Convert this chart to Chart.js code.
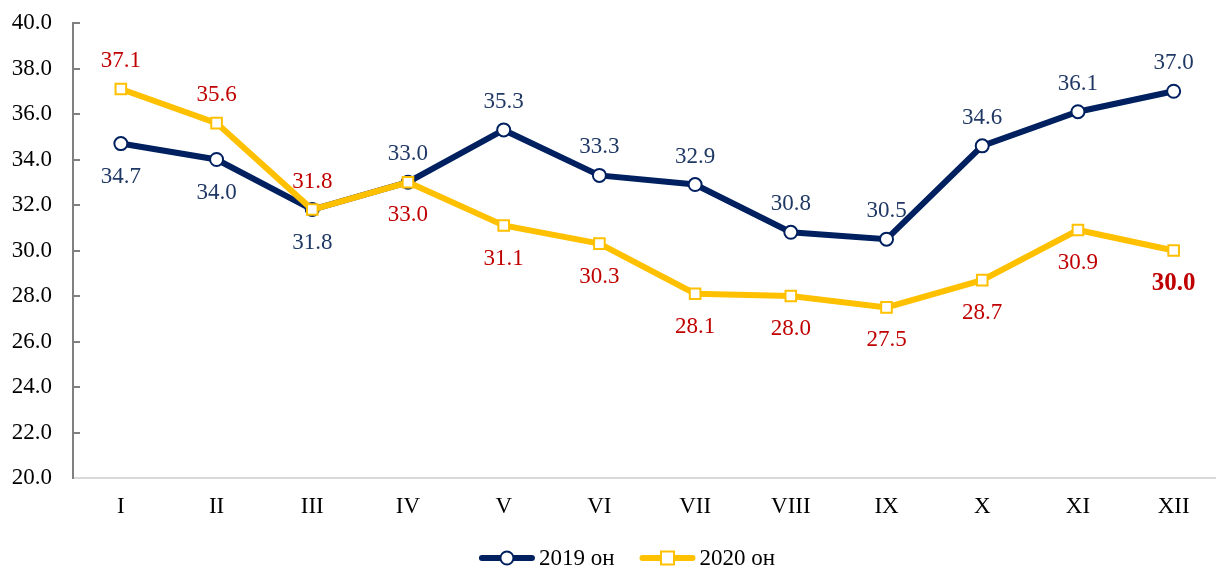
<!DOCTYPE html>
<html>
<head>
<meta charset="utf-8">
<script src="https://cdn.jsdelivr.net/npm/chart.js@4/dist/chart.umd.min.js"></script>
<style>
  html, body { margin: 0; padding: 0; background: #fff; overflow: hidden; }
  #wrap { width: 1216px; height: 572px; overflow: hidden; position: relative; }
  #c { position: absolute; left: 0; top: 0; }
</style>
</head>
<body>
<div id="wrap"><canvas id="c" width="1231" height="572"></canvas></div>
<script>
var months = ["I", "II", "III", "IV", "V", "VI", "VII", "VIII", "IX", "X", "XI", "XII"];
var values2019 = [34.7, 34.0, 31.8, 33.0, 35.3, 33.3, 32.9, 30.8, 30.5, 34.6, 36.1, 37.0];
var values2020 = [37.1, 35.6, 31.8, 33.0, 31.1, 30.3, 28.1, 28.0, 27.5, 28.7, 30.9, 30.0];
var yTicks = [20, 22, 24, 26, 28, 30, 32, 34, 36, 38, 40];

// where the value labels go (1 = above, -1 = below)
var side2019 = [-1, -1, -1, 1, 1, 1, 1, 1, 1, 1, 1, 1];
var side2020 = [1, 1, 1, -1, -1, -1, -1, -1, -1, -1, -1, -1];

var NAVY = "#002060";
var GOLD = "#FFC000";
var SERIF = "'Liberation Serif', 'Times New Roman', serif";

function drawIcon(g, x, y, color, shape) {
  g.save();
  g.strokeStyle = color; g.lineWidth = 6; g.lineCap = "round";
  g.beginPath(); g.moveTo(x + 3, y); g.lineTo(x + 53, y); g.stroke();
  g.fillStyle = "#fff"; g.lineWidth = 2;
  if (shape === "circle") {
    g.beginPath(); g.arc(x + 28, y, 6.5, 0, Math.PI * 2); g.fill(); g.stroke();
  } else {
    g.fillRect(x + 21.5, y - 6.5, 13, 13); g.strokeRect(x + 21.5, y - 6.5, 13, 13);
  }
  g.restore();
}

// small tick marks on the inside of the y axis
var innerTicks = {
  id: "innerTicks",
  beforeDatasetsDraw: function (chart) {
    var ctx = chart.ctx, ys = chart.scales.y;
    ctx.save();
    ctx.strokeStyle = "#808080";
    ctx.lineWidth = 2;
    ys.ticks.forEach(function (t) {
      if (t.value === 20) return;
      var py = Math.round(ys.getPixelForValue(t.value));
      ctx.beginPath();
      ctx.moveTo(ys.right, py);
      ctx.lineTo(ys.right + 7, py);
      ctx.stroke();
    });
    ctx.restore();
  }
};

var valueLabels = {
  id: "valueLabels",
  afterDatasetsDraw: function (chart) {
    var ctx = chart.ctx;
    var cfg = [
      { data: values2019, side: side2019, color: "#1F3864" },
      { data: values2020, side: side2020, color: "#C00000" }
    ];
    ctx.save();
    ctx.textAlign = "center";
    ctx.textBaseline = "middle";
    cfg.forEach(function (c, di) {
      var meta = chart.getDatasetMeta(di);
      meta.data.forEach(function (pt, i) {
        var last = di === 1 && i === c.data.length - 1;
        ctx.font = (last ? "bold 25px " : "23px ") + SERIF;
        ctx.fillStyle = c.color;
        var off = c.side[i] > 0 ? -28 : 33;
        ctx.fillText(c.data[i].toFixed(1), pt.x, pt.y + off);
      });
    });
    ctx.restore();
  }
};

var bottomLegend = {
  id: "bottomLegend",
  afterDraw: function (chart) {
    var ctx = chart.ctx;
    var shapes = ["circle", "rect"];
    var colors = [NAVY, GOLD];
    ctx.save();
    ctx.font = "23px " + SERIF;
    ctx.fillStyle = "#000";
    ctx.textBaseline = "middle";
    var items = chart.data.datasets.map(function (ds, i) {
      return { text: ds.label, w: ctx.measureText(ds.label).width, i: i };
    });
    var iconW = 56, gapText = 4, gapItem = 25;
    var total = 0;
    items.forEach(function (it, k) { total += iconW + gapText + it.w + (k ? gapItem : 0); });
    var x = 627 - total / 2;
    var y = chart.height - 14;
    items.forEach(function (it) {
      drawIcon(ctx, x, y, colors[it.i], shapes[it.i]);
      x += iconW + gapText;
      ctx.fillText(it.text, x, y + 1);
      x += it.w + gapItem;
    });
    ctx.restore();
  }
};

new Chart(document.getElementById("c"), {
  type: "line",
  data: {
    labels: months,
    datasets: [{
      label: "2019 он",
      data: values2019,
      borderColor: NAVY,
      borderWidth: 6,
      pointStyle: "circle",
      pointRadius: 6.5,
      pointBorderWidth: 2,
      pointBackgroundColor: "#fff",
      pointBorderColor: NAVY,
      tension: 0,
      order: 2
    }, {
      label: "2020 он",
      data: values2020,
      borderColor: GOLD,
      borderWidth: 6,
      pointStyle: "rect",
      pointRadius: 7.5,
      pointBorderWidth: 2,
      pointBackgroundColor: "#fff",
      pointBorderColor: GOLD,
      tension: 0,
      order: 1
    }]
  },
  options: {
    responsive: false,
    animation: false,
    layout: { padding: { top: 23, right: 0, bottom: 46, left: 0 } },
    scales: {
      x: {
        offset: true,
        grid: { display: false, drawTicks: false },
        border: { color: "#D9D9D9", width: 2 },
        ticks: { color: "#000", font: { family: SERIF, size: 23 }, padding: 15 },
        afterFit: function (s) { s.height = 48; }
      },
      y: {
        min: 20, max: 40,
        afterBuildTicks: function (s) { s.ticks = yTicks.map(function (v) { return { value: v }; }); },
        grid: { display: true, drawOnChartArea: false, drawTicks: true, tickLength: 21, color: "rgba(0,0,0,0)" },
        border: { color: "#808080", width: 2 },
        ticks: {
          color: "#000", font: { family: SERIF, size: 23 }, padding: 0,
          callback: function (v) { return Number(v).toFixed(1); }
        },
        afterFit: function (s) { s.width = 73; }
      }
    },
    plugins: {
      tooltip: { enabled: false },
      legend: { display: false }
    }
  },
  plugins: [innerTicks, valueLabels, bottomLegend]
});
</script>
</body>
</html>
